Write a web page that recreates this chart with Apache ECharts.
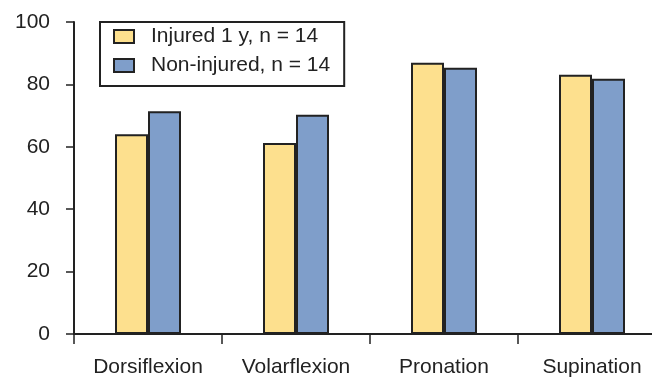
<!DOCTYPE html>
<html><head><meta charset="utf-8">
<script src="https://cdn.jsdelivr.net/npm/echarts@6/dist/echarts.min.js"></script>
<style>html,body{margin:0;padding:0;background:#fff}#c{width:652px;height:379px}</style>
</head><body><div id="c"></div>
<script>
const categories = ['Dorsiflexion', 'Volarflexion', 'Pronation', 'Supination'];
const seriesNames = ['Injured 1 y, n = 14', 'Non-injured, n = 14'];
const injured = [64, 61.2, 86.9, 83.1];
const nonInjured = [71.4, 70.3, 85.3, 81.8];
const yTicks = [0, 20, 40, 60, 80, 100];

const chart = echarts.init(document.getElementById('c'), null, {renderer: 'canvas'});
const font = '"Liberation Sans", Arial, Helvetica, sans-serif';
const dark = '#222';
chart.setOption({
  animation: false,
  backgroundColor: '#fff',
  textStyle: {fontFamily: font},
  legend: {
    orient: 'vertical', left: 100, top: 22,
    borderColor: dark, borderWidth: 2, borderRadius: 0,
    padding: [4, 14, 10, 13],
    itemWidth: 20, itemHeight: 13, itemGap: 8,
    textStyle: {fontSize: 21, color: dark, fontFamily: font, padding: [0, 0, 0, 12]},
    data: seriesNames.map(n => ({name: n, icon: 'rect'}))
  },
  grid: {left: 74, width: 592, top: 22, bottom: 45, containLabel: false, outerBoundsMode: 'none'},
  xAxis: {
    type: 'category', data: categories,
    axisLine: {lineStyle: {color: dark, width: 2}},
    axisTick: {show: true, length: 10, lineStyle: {color: dark, width: 1.5}},
    axisLabel: {fontSize: 21, color: dark, margin: 23, fontFamily: font}
  },
  yAxis: {
    type: 'value', min: yTicks[0], max: yTicks[yTicks.length - 1], interval: 20,
    splitLine: {show: false},
    axisLine: {show: true, lineStyle: {color: dark, width: 2}},
    axisTick: {show: true, length: 8, lineStyle: {color: dark, width: 1.5}},
    axisLabel: {fontSize: 21, color: dark, margin: 24, fontFamily: font}
  },
  series: [
    {name: seriesNames[0], type: 'bar', data: injured, barWidth: 33, barGap: '0%',
     itemStyle: {color: '#fde08e', borderColor: dark, borderWidth: 2}},
    {name: seriesNames[1], type: 'bar', data: nonInjured, barWidth: 33, barGap: '0%',
     itemStyle: {color: '#7f9eca', borderColor: dark, borderWidth: 2}}
  ]
});
</script></body></html>
